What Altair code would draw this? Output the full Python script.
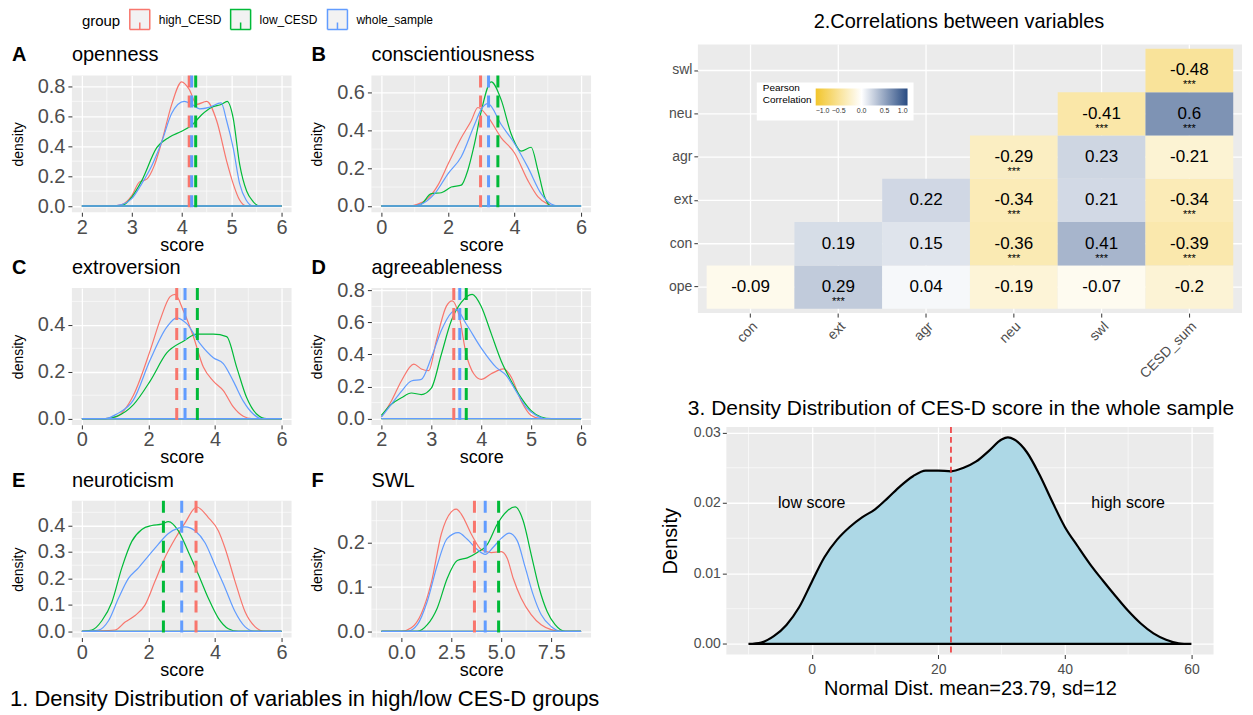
import altair as alt
import pandas as pd

FONT = "Liberation Sans"
GROUPS = ["high_CESD", "low_CESD", "whole_sample"]
GROUP_COLORS = ["#F8766D", "#00BA38", "#619CFF"]

# ---------------- Panel A: openness ----------------
A_HIGH_X = [2.0, 2.6, 2.8, 3.0, 3.15, 3.3, 3.45, 3.6, 3.8, 4.0, 4.15, 4.3, 4.5, 4.7, 4.9, 5.03, 5.16, 5.3, 6.0]
A_HIGH_Y = [0, 0, 0.01, 0.07, 0.16, 0.18, 0.27, 0.43, 0.68, 0.83, 0.78, 0.68, 0.70, 0.57, 0.30, 0.15, 0.04, 0, 0]
A_LOW_X = [2.0, 2.7, 2.85, 3.0, 3.2, 3.5, 3.75, 4.0, 4.2, 4.4, 4.6, 4.8, 4.91, 5.03, 5.16, 5.3, 5.43, 5.56, 6.0]
A_LOW_Y = [0, 0, 0.01, 0.06, 0.17, 0.39, 0.46, 0.50, 0.54, 0.61, 0.66, 0.68, 0.70, 0.59, 0.28, 0.10, 0.03, 0, 0]
A_WHOLE_X = [2.0, 2.6, 2.8, 3.0, 3.2, 3.4, 3.6, 3.8, 4.05, 4.2, 4.36, 4.55, 4.79, 4.9, 5.03, 5.16, 5.29, 5.43, 6.0]
A_WHOLE_Y = [0, 0, 0.01, 0.05, 0.15, 0.27, 0.43, 0.62, 0.70, 0.68, 0.65, 0.66, 0.69, 0.57, 0.39, 0.15, 0.04, 0, 0]
A_MEANS = [4.15, 4.28, 4.2]

# ---------------- Panel B: conscientiousness ----------------
B_HIGH_X = [0, 0.8, 1.1, 1.4, 1.7, 2.0, 2.4, 2.7, 2.9, 3.2, 3.6, 4.0, 4.4, 4.7, 5.0, 5.2, 6.0]
B_HIGH_Y = [0, 0, 0.01, 0.04, 0.11, 0.22, 0.36, 0.45, 0.52, 0.47, 0.36, 0.28, 0.135, 0.05, 0.01, 0, 0]
B_LOW_X = [0, 1.0, 1.2, 1.5, 1.8, 2.1, 2.4, 2.6, 2.8, 3.0, 3.3, 3.6, 3.9, 4.2, 4.5, 4.7, 4.9, 5.1, 6.0]
B_LOW_Y = [0, 0, 0.01, 0.065, 0.07, 0.10, 0.11, 0.19, 0.33, 0.50, 0.655, 0.56, 0.38, 0.29, 0.31, 0.19, 0.05, 0, 0]
B_WHOLE_X = [0, 0.9, 1.2, 1.6, 2.0, 2.4, 2.8, 3.0, 3.2, 3.6, 4.0, 4.4, 4.8, 5.1, 5.3, 6.0]
B_WHOLE_Y = [0, 0, 0.01, 0.065, 0.17, 0.26, 0.43, 0.51, 0.54, 0.43, 0.33, 0.205, 0.065, 0.01, 0, 0]
B_MEANS = [2.98, 3.5, 3.22]

# ---------------- Panel C: extroversion ----------------
C_HIGH_X = [0, 0.7, 1.05, 1.55, 2.05, 2.35, 2.65, 2.8, 3.05, 3.35, 3.65, 3.95, 4.25, 4.55, 4.85, 5.1, 6.0]
C_HIGH_Y = [0, 0, 0.01, 0.10, 0.29, 0.42, 0.52, 0.53, 0.46, 0.35, 0.22, 0.16, 0.12, 0.05, 0.01, 0, 0]
C_LOW_X = [0, 0.7, 1.05, 1.55, 2.05, 2.55, 3.05, 3.45, 3.95, 4.35, 4.65, 4.95, 5.25, 5.55, 6.0]
C_LOW_Y = [0, 0, 0.01, 0.06, 0.16, 0.28, 0.33, 0.36, 0.36, 0.35, 0.22, 0.09, 0.02, 0, 0]
C_WHOLE_X = [0, 0.7, 1.05, 1.55, 2.05, 2.55, 2.85, 3.15, 3.55, 3.95, 4.25, 4.55, 4.85, 5.15, 5.4, 6.0]
C_WHOLE_Y = [0, 0, 0.02, 0.08, 0.25, 0.39, 0.43, 0.405, 0.32, 0.26, 0.235, 0.16, 0.075, 0.02, 0, 0]
C_MEANS = [2.85, 3.47, 3.1]

# ---------------- Panel D: agreeableness ----------------
D_HIGH_X = [2.0, 2.2, 2.4, 2.65, 2.8, 2.95, 3.1, 3.3, 3.42, 3.55, 3.7, 3.85, 4.0, 4.2, 4.45, 4.6, 4.8, 5.0, 5.2, 6.0]
D_HIGH_Y = [0.01, 0.11, 0.235, 0.34, 0.31, 0.30, 0.485, 0.70, 0.735, 0.65, 0.40, 0.28, 0.245, 0.28, 0.31, 0.26, 0.11, 0.02, 0, 0]
D_LOW_X = [2.0, 2.2, 2.4, 2.6, 2.8, 3.0, 3.2, 3.4, 3.6, 3.82, 4.0, 4.2, 4.4, 4.6, 4.8, 5.0, 5.2, 5.4, 6.0]
D_LOW_Y = [0.02, 0.09, 0.13, 0.16, 0.15, 0.19, 0.40, 0.61, 0.725, 0.775, 0.70, 0.53, 0.36, 0.235, 0.13, 0.05, 0.01, 0, 0]
D_WHOLE_X = [2.0, 2.2, 2.4, 2.6, 2.8, 3.0, 3.2, 3.4, 3.5, 3.7, 4.0, 4.3, 4.5, 4.7, 4.9, 5.1, 5.3, 6.0]
D_WHOLE_Y = [0.01, 0.09, 0.17, 0.235, 0.245, 0.38, 0.55, 0.66, 0.68, 0.59, 0.44, 0.32, 0.27, 0.17, 0.07, 0.02, 0, 0]
D_MEANS = [3.45, 3.70, 3.57]

# ---------------- Panel E: neuroticism ----------------
E_HIGH_X = [0, 1.0, 1.3, 1.6, 1.9, 2.2, 2.5, 2.8, 3.1, 3.45, 3.8, 4.1, 4.3, 4.6, 4.9, 5.2, 5.5, 6.0]
E_HIGH_Y = [0, 0.005, 0.035, 0.06, 0.10, 0.19, 0.28, 0.35, 0.41, 0.47, 0.43, 0.38, 0.315, 0.19, 0.075, 0.018, 0, 0]
E_LOW_X = [0, 0.3, 0.6, 0.9, 1.2, 1.5, 1.8, 2.1, 2.4, 2.6, 2.9, 3.2, 3.5, 3.8, 4.1, 4.4, 4.7, 6.0]
E_LOW_Y = [0, 0.005, 0.04, 0.11, 0.24, 0.34, 0.385, 0.40, 0.405, 0.415, 0.38, 0.30, 0.215, 0.125, 0.05, 0.01, 0, 0]
E_WHOLE_X = [0, 0.5, 0.8, 1.1, 1.4, 1.7, 2.0, 2.3, 2.6, 2.9, 3.1, 3.4, 3.7, 4.0, 4.3, 4.6, 4.9, 5.2, 6.0]
E_WHOLE_Y = [0, 0.005, 0.04, 0.125, 0.20, 0.24, 0.285, 0.33, 0.37, 0.39, 0.395, 0.38, 0.335, 0.25, 0.165, 0.075, 0.018, 0, 0]
E_MEANS = [3.43, 2.45, 3.0]

# ---------------- Panel F: SWL ----------------
F_HIGH_X = [-1, 0, 0.5, 1.0, 1.5, 2.0, 2.5, 2.75, 3.0, 3.5, 4.0, 4.5, 5.0, 5.3, 5.6, 6.0, 6.5, 7.0, 7.5, 8.0, 9.0]
F_HIGH_Y = [0, 0, 0.008, 0.04, 0.11, 0.22, 0.27, 0.276, 0.265, 0.22, 0.185, 0.178, 0.18, 0.165, 0.12, 0.075, 0.038, 0.015, 0.004, 0, 0]
F_LOW_X = [-1, 0.8, 1.3, 1.8, 2.3, 2.8, 3.3, 3.8, 4.3, 4.8, 5.3, 5.7, 6.1, 6.5, 6.9, 7.3, 7.7, 8.2, 9.0]
F_LOW_Y = [0, 0, 0.015, 0.053, 0.12, 0.16, 0.166, 0.178, 0.196, 0.242, 0.272, 0.281, 0.25, 0.174, 0.098, 0.045, 0.015, 0, 0]
F_WHOLE_X = [-1, 0.3, 0.8, 1.3, 1.8, 2.3, 2.85, 3.3, 3.8, 4.2, 4.6, 5.0, 5.4, 5.8, 6.2, 6.6, 7.0, 7.5, 8.0, 9.0]
F_WHOLE_Y = [0, 0, 0.015, 0.068, 0.15, 0.21, 0.223, 0.208, 0.185, 0.174, 0.19, 0.21, 0.222, 0.205, 0.145, 0.083, 0.038, 0.011, 0, 0]
F_MEANS = [3.66, 4.87, 4.2]

# ---------------- Correlation heatmap ----------------
HEAT_COLS = ["con", "ext", "agr", "neu", "swl", "CESD_sum"]
HEAT_ROWS = ["swl", "neu", "agr", "ext", "con", "ope"]
HEAT_X = ["con", "ext", "agr", "neu", "swl", "CESD_sum",
          "ext", "agr", "neu", "swl", "CESD_sum",
          "agr", "neu", "swl", "CESD_sum",
          "neu", "swl", "CESD_sum",
          "swl", "CESD_sum",
          "CESD_sum"]
HEAT_Y = ["ope"] * 6 + ["con"] * 5 + ["ext"] * 4 + ["agr"] * 3 + ["neu"] * 2 + ["swl"]
HEAT_R = [-0.09, 0.29, 0.04, -0.19, -0.07, -0.2,
          0.19, 0.15, -0.36, 0.41, -0.39,
          0.22, -0.34, 0.21, -0.34,
          -0.29, 0.23, -0.21,
          -0.41, 0.6,
          -0.48]
HEAT_SIG = ["", "***", "", "", "", "",
            "", "", "***", "***", "***",
            "", "***", "", "***",
            "***", "", "",
            "***", "***",
            "***"]

# ---------------- CES-D density ----------------
CESD_X = [-10, -8, -6, -4, -2, 0, 2, 4, 6, 8, 10, 12, 14, 16, 18, 20, 22, 24, 26, 28, 30, 31, 32,
          34, 36, 38, 40, 42, 44, 46, 48, 50, 52, 54, 56, 58, 60]
CESD_Y = [0, 0.0002, 0.0011, 0.0027, 0.0052, 0.0088, 0.0123, 0.0148, 0.0166, 0.018, 0.0191, 0.0207,
          0.0224, 0.0238, 0.0246, 0.0246, 0.0245, 0.025, 0.0259, 0.0274, 0.029, 0.0293, 0.029,
          0.0272, 0.024, 0.0202, 0.0166, 0.0139, 0.0113, 0.009, 0.0068, 0.0047, 0.0029, 0.0015,
          0.0006, 0.0001, 0]
CESD_CUT = [22]

SYMBOL = "M-1,-1H1V1H-1Z M0,1V0.3"

COLOR = alt.Color(
    "group:N",
    scale=alt.Scale(domain=GROUPS, range=GROUP_COLORS),
    legend=alt.Legend(
        title="group", orient="none", legendX=10, legendY=-36, direction="horizontal",
        titleOrient="left", titleFontSize=15, titleFontWeight="normal", titleColor="black",
        titlePadding=8, titleAnchor="middle", titleBaseline="middle",
        labelFontSize=12, labelColor="black", labelOffset=8, columnPadding=6,
        symbolType=SYMBOL, symbolSize=400, symbolStrokeWidth=1.5,
        symbolFillColor="#F2F2F2", symbolDash=[1, 0], padding=0,
    ),
)


def build_df(curves):
    rows = []
    for g, (xs, ys) in zip(GROUPS, curves):
        for x, y in zip(xs, ys):
            rows.append({"group": g, "score": x, "density": y})
    return pd.DataFrame(rows)


def density_panel(letter, name, curves, means, xdom, xticks, xminor, xfmt,
                  ydom, yticks, yminor, yfmt, caption=None):
    df = build_df(curves)
    xenc = alt.X("score:Q", scale=alt.Scale(domain=xdom, nice=False, zero=False), title="score",
                 axis=alt.Axis(values=xticks, format=xfmt, labelFontSize=20, labelPadding=1,
                               titleFontSize=18, titlePadding=-1, labelFlush=False))
    yenc = alt.Y("density:Q", scale=alt.Scale(domain=ydom, nice=False, zero=False), title="density",
                 axis=alt.Axis(values=yticks, format=yfmt, labelFontSize=20, labelPadding=3,
                               titleFontSize=14, titlePadding=12, labelFlush=False))
    minor_x = alt.Chart(pd.DataFrame({"score": xminor})).mark_rule(
        color="white", strokeWidth=0.6).encode(x=xenc)
    minor_y = alt.Chart(pd.DataFrame({"density": yminor})).mark_rule(
        color="white", strokeWidth=0.6).encode(y=yenc)
    lines = alt.Chart(df).mark_line(strokeWidth=1.2, interpolate="monotone").encode(
        x=xenc, y=yenc, color=COLOR)
    base_df = pd.DataFrame({
        "group": GROUPS,
        "score": [min(c[0]) for c in curves],
        "score2": [max(c[0]) for c in curves],
        "density": [0, 0, 0],
    })
    baseline = alt.Chart(base_df).mark_rule(strokeWidth=1.4).encode(
        x=xenc, x2="score2:Q", y=yenc, color=COLOR)
    vlines = alt.Chart(pd.DataFrame({"group": GROUPS, "score": means})).mark_rule(
        strokeWidth=3, strokeDash=[12, 8]).encode(x=xenc, color=COLOR)
    letter_t = alt.Chart(pd.DataFrame({"t": [letter]})).mark_text(
        fontSize=20, fontWeight="bold", align="left", baseline="middle", color="black"
    ).encode(text="t:N", x=alt.value(-60), y=alt.value(-20))
    name_t = alt.Chart(pd.DataFrame({"t": [name]})).mark_text(
        fontSize=20, align="left", baseline="middle", color="black"
    ).encode(text="t:N", x=alt.value(0), y=alt.value(-20))
    layers = [minor_x, minor_y, lines, baseline, vlines, letter_t, name_t]
    if caption:
        cap = alt.Chart(pd.DataFrame({"t": [caption]})).mark_text(
            fontSize=22, align="left", baseline="middle", color="black"
        ).encode(text="t:N", x=alt.value(-62), y=alt.value(199))
        layers.append(cap)
    return alt.layer(*layers).properties(width=220, height=137)


pA = density_panel("A", "openness", [(A_HIGH_X, A_HIGH_Y), (A_LOW_X, A_LOW_Y), (A_WHOLE_X, A_WHOLE_Y)],
                   A_MEANS, [1.8, 6.2], [2, 3, 4, 5, 6], [2.5, 3.5, 4.5, 5.5], "d",
                   [-0.0415, 0.873], [0, 0.2, 0.4, 0.6, 0.8], [0.1, 0.3, 0.5, 0.7], ".1f")
pB = density_panel("B", "conscientiousness", [(B_HIGH_X, B_HIGH_Y), (B_LOW_X, B_LOW_Y), (B_WHOLE_X, B_WHOLE_Y)],
                   B_MEANS, [-0.3, 6.3], [0, 2, 4, 6], [1, 3, 5], "d",
                   [-0.033, 0.689], [0, 0.2, 0.4, 0.6], [0.1, 0.3, 0.5], ".1f")
pC = density_panel("C", "extroversion", [(C_HIGH_X, C_HIGH_Y), (C_LOW_X, C_LOW_Y), (C_WHOLE_X, C_WHOLE_Y)],
                   C_MEANS, [-0.3, 6.3], [0, 2, 4, 6], [1, 3, 5], "d",
                   [-0.0265, 0.5565], [0, 0.2, 0.4], [0.1, 0.3, 0.5], ".1f")
pD = density_panel("D", "agreeableness", [(D_HIGH_X, D_HIGH_Y), (D_LOW_X, D_LOW_Y), (D_WHOLE_X, D_WHOLE_Y)],
                   D_MEANS, [1.8, 6.2], [2, 3, 4, 5, 6], [2.5, 3.5, 4.5, 5.5], "d",
                   [-0.039, 0.814], [0, 0.2, 0.4, 0.6, 0.8], [0.1, 0.3, 0.5, 0.7], ".1f")
pE = density_panel("E", "neuroticism", [(E_HIGH_X, E_HIGH_Y), (E_LOW_X, E_LOW_Y), (E_WHOLE_X, E_WHOLE_Y)],
                   E_MEANS, [-0.3, 6.3], [0, 2, 4, 6], [1, 3, 5], "d",
                   [-0.0235, 0.4935], [0, 0.1, 0.2, 0.3, 0.4], [0.05, 0.15, 0.25, 0.35, 0.45], ".1f",
                   caption="1. Density Distribution of variables in high/low CES-D groups")
pF = density_panel("F", "SWL", [(F_HIGH_X, F_HIGH_Y), (F_LOW_X, F_LOW_Y), (F_WHOLE_X, F_WHOLE_Y)],
                   F_MEANS, [-1.5, 9.5], [0, 2.5, 5, 7.5], [-1.25, 1.25, 3.75, 6.25, 8.75], ".1f",
                   [-0.014, 0.295], [0, 0.1, 0.2], [0.05, 0.15, 0.25], ".1f")

grid = alt.concat(pA, pB, pC, pD, pE, pF, columns=2,
                  spacing={"row": 76, "column": 80}, bounds="flush")

# invisible spacer row: aligns the left block with the heatmap's top edge
spacer = alt.Chart(pd.DataFrame({"t": [""]})).mark_text().encode(
    text="t:N"
).properties(width=520, height=1, view=alt.ViewBackground(fill="transparent", stroke="transparent"))

left = alt.vconcat(spacer, grid, spacing=30, bounds="flush")

# ---------------- heatmap ----------------
heat_df = pd.DataFrame({
    "col": HEAT_X, "row": HEAT_Y, "r": HEAT_R,
    "label": ["{:g}".format(v) for v in HEAT_R], "sig": HEAT_SIG,
})
hx = alt.X("col:N", scale=alt.Scale(domain=HEAT_COLS, paddingInner=0, paddingOuter=0.1), title=None,
           axis=alt.Axis(labelAngle=-45, labelAlign="right", labelBaseline="top", labelFontSize=14,
                         bandPosition=0.5, labelPadding=2, grid=False))
hy = alt.Y("row:N", scale=alt.Scale(domain=HEAT_ROWS, paddingInner=0, paddingOuter=0.1), title=None,
           axis=alt.Axis(labelFontSize=14, bandPosition=0.5, labelPadding=2, grid=False))
hgrid_x = alt.Chart(pd.DataFrame({"col": HEAT_COLS})).mark_rule(
    color="white", strokeWidth=1.3).encode(x=hx)
hgrid_y = alt.Chart(pd.DataFrame({"row": HEAT_ROWS})).mark_rule(
    color="white", strokeWidth=1.3).encode(y=hy)
tiles = alt.Chart(heat_df).mark_rect(opacity=1).encode(
    x=hx, y=hy,
    fill=alt.Fill("r:Q",
                  scale=alt.Scale(domain=[-1, 0, 1], range=["#F2C52C", "#FFFFFF", "#284B82"],
                                  interpolate="rgb"),
                  legend=alt.Legend(
                      title=["Pearson", "Correlation"], orient="none", legendX=59, legendY=38,
                      direction="horizontal", titleOrient="left", titleFontSize=10,
                      titleFontWeight="normal", titleColor="black", titlePadding=4,
                      gradientLength=92, gradientThickness=17, values=[-1, -0.5, 0, 0.5, 1],
                      format=".1f", labelFontSize=7, labelColor="#333333", labelOverlap=False,
                      fillColor="white", padding=6)),
)
vals = alt.Chart(heat_df).mark_text(fontSize=17, color="black").encode(x=hx, y=hy, text="label:N")
stars = alt.Chart(heat_df).mark_text(fontSize=11, dy=15, color="black").encode(x=hx, y=hy, text="sig:N")
heat = alt.layer(hgrid_x, hgrid_y, tiles, vals, stars).properties(
    width=545, height=269,
    title=alt.TitleParams("2.Correlations between variables", fontSize=20, anchor="middle",
                          offset=12, dx=-11, fontWeight="normal", color="black"),
)

# ---------------- CES-D density ----------------
d3 = pd.DataFrame({"score": CESD_X, "density": CESD_Y})
x3 = alt.X("score:Q", scale=alt.Scale(domain=[-13.5, 63.5], nice=False, zero=False),
           title="Normal Dist. mean=23.79, sd=12",
           axis=alt.Axis(values=[0, 20, 40, 60], labelFontSize=14, labelPadding=4,
                         titleFontSize=20, titlePadding=2))
y3 = alt.Y("density:Q", scale=alt.Scale(domain=[-0.0015, 0.0308], nice=False, zero=False),
           title="Density",
           axis=alt.Axis(values=[0, 0.01, 0.02, 0.03], format=".2f", labelFontSize=14,
                         labelPadding=2, titleFontSize=20, titlePadding=13))
m3x = alt.Chart(pd.DataFrame({"score": [-10, 10, 30, 50]})).mark_rule(
    color="white", strokeWidth=0.6).encode(x=x3)
m3y = alt.Chart(pd.DataFrame({"density": [0.005, 0.015, 0.025]})).mark_rule(
    color="white", strokeWidth=0.6).encode(y=y3)
area3 = alt.Chart(d3).mark_area(color="#ADD8E6", stroke="black", strokeWidth=2.2,
                                interpolate="monotone").encode(x=x3, y=y3)
cut3 = alt.Chart(pd.DataFrame({"score": CESD_CUT})).mark_rule(
    color="#F0282A", strokeDash=[6, 4], strokeWidth=1.5).encode(x=x3)
txt3 = alt.Chart(pd.DataFrame({"score": [0, 50], "density": [0.02, 0.02],
                               "t": ["low score", "high score"]})).mark_text(
    fontSize=16, color="black").encode(x=x3, y=y3, text="t:N")
dens = alt.layer(m3x, m3y, area3, cut3, txt3).properties(
    width=488, height=228,
    title=alt.TitleParams("3. Density Distribution of CES-D score in the whole sample",
                          fontSize=21, anchor="middle", offset=7, dx=-9, fontWeight="normal",
                          color="black"),
)

right = alt.vconcat(heat, dens, spacing=114, bounds="flush", center=True).resolve_scale(
    fill="independent")

chart = alt.hconcat(left, right, spacing=60).resolve_scale(
    color="independent", fill="independent"
).properties(
    padding={"left": 2, "top": 0, "right": 2, "bottom": 2}
).configure(
    font=FONT
).configure_view(
    fill="#EBEBEB", stroke=None
).configure_axis(
    domain=False, grid=True, gridColor="white", gridWidth=1.3, tickColor="#333333",
    tickSize=4, labelColor="#4D4D4D", titleColor="black", titleFontWeight="normal",
    labelFont=FONT, titleFont=FONT
).configure_title(font=FONT)

chart.save("out.html", embed_options={"renderer": "svg", "actions": False})
